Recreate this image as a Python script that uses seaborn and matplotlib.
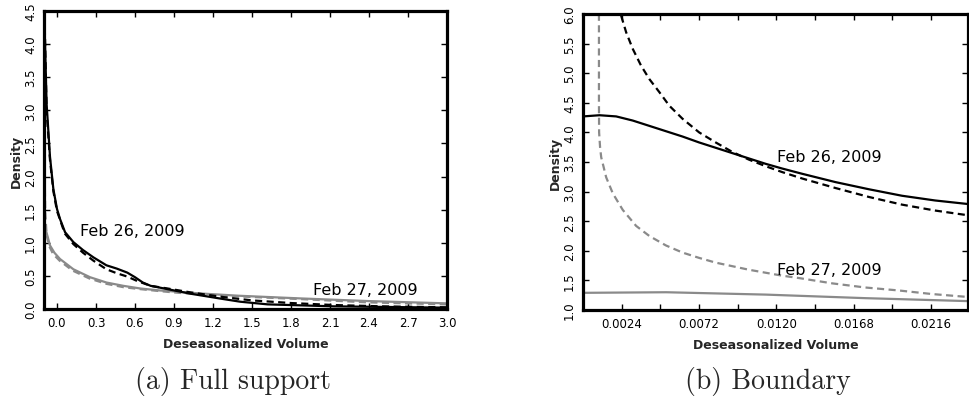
import numpy as np
import pandas as pd
import matplotlib
matplotlib.use("Agg")
import matplotlib.pyplot as plt
import seaborn as sns

# ---- Panel (a): full support ----
full_x_obs26 = [-0.1, -0.08, -0.054, -0.028, 0.0, 0.023, 0.062, 0.126, 0.20, 0.28, 0.38,
                0.46, 0.54, 0.60, 0.66, 0.72, 0.85, 1.03, 1.28, 1.41, 1.62, 2.13, 3.0]
full_y_obs26 = [4.6, 3.1, 2.3, 1.81, 1.51, 1.36, 1.16, 1.01, 0.89, 0.78, 0.66,
                0.61, 0.55, 0.48, 0.40, 0.35, 0.30, 0.23, 0.15, 0.11, 0.07, 0.04, 0.02]

full_x_fit26 = [-0.098, -0.08, -0.054, -0.028, 0.0, 0.06, 0.126, 0.20, 0.28, 0.38, 0.46,
                0.54, 0.62, 0.72, 0.85, 1.03, 1.28, 1.5, 1.8, 2.13, 2.5, 3.0]
full_y_fit26 = [4.6, 3.0, 2.25, 1.78, 1.48, 1.14, 0.98, 0.85, 0.73, 0.60, 0.54,
                0.49, 0.42, 0.35, 0.31, 0.25, 0.18, 0.13, 0.09, 0.06, 0.04, 0.025]

full_x_obs27 = [-0.1, -0.08, -0.054, -0.02, 0.023, 0.126, 0.254, 0.38, 0.51, 0.64, 0.79,
                0.9, 1.1, 1.4, 1.87, 2.39, 3.0]
full_y_obs27 = [1.30, 1.15, 0.96, 0.85, 0.755, 0.60, 0.48, 0.40, 0.35, 0.31, 0.28,
                0.265, 0.235, 0.20, 0.16, 0.12, 0.085]

full_x_fit27 = [-0.097, -0.096, -0.094, -0.09, -0.08, -0.06, -0.03, 0.02, 0.12, 0.25, 0.38,
                0.51, 0.64, 0.79, 0.9, 1.1, 1.4, 1.87, 2.39, 3.0]
full_y_fit27 = [4.6, 3.0, 1.9, 1.45, 1.12, 0.95, 0.83, 0.73, 0.58, 0.46, 0.38,
                0.33, 0.30, 0.27, 0.25, 0.22, 0.19, 0.15, 0.10, 0.07]

full_xticks = [0.0, 0.3, 0.6, 0.9, 1.2, 1.5, 1.8, 2.1, 2.4, 2.7, 3.0]
full_yticks = [0.0, 0.5, 1.0, 1.5, 2.0, 2.5, 3.0, 3.5, 4.0, 4.5]

# ---- Panel (b): boundary ----
bnd_x_obs26 = [0.0, 0.00103, 0.00206, 0.00309, 0.00412, 0.00515, 0.00618, 0.00721,
               0.00824, 0.00927, 0.0103, 0.01133, 0.01236, 0.01362, 0.01568, 0.01774,
               0.0198, 0.02186, 0.0239]
bnd_y_obs26 = [4.27, 4.29, 4.27, 4.20, 4.11, 4.02, 3.93, 3.83,
               3.74, 3.65, 3.56, 3.47, 3.39, 3.30, 3.16, 3.04,
               2.93, 2.85, 2.79]

bnd_x_fit26 = [0.00237, 0.00268, 0.00309, 0.0036, 0.00412, 0.00474, 0.00536, 0.00618,
               0.00721, 0.00824, 0.00927, 0.0103, 0.01133, 0.01236, 0.01362, 0.01568,
               0.01774, 0.0198, 0.02186, 0.0239]
bnd_y_fit26 = [5.97, 5.69, 5.41, 5.13, 4.90, 4.68, 4.45, 4.23,
               4.0, 3.83, 3.67, 3.54, 3.43, 3.33, 3.22, 3.06,
               2.91, 2.78, 2.68, 2.60]

bnd_x_obs27 = [0.0, 0.00517, 0.01135, 0.01753, 0.0239]
bnd_y_obs27 = [1.29, 1.30, 1.26, 1.20, 1.15]

bnd_x_fit27 = [0.00099, 0.00099, 0.00100, 0.00106, 0.00113, 0.00144, 0.00185, 0.00247,
               0.0033, 0.00412, 0.00515, 0.00618, 0.00721, 0.00824, 0.00927, 0.0103,
               0.01236, 0.0134, 0.01547, 0.01753, 0.0196, 0.02165, 0.0239]
bnd_y_fit27 = [6.2, 4.5, 4.0, 3.75, 3.58, 3.24, 2.97, 2.69,
               2.42, 2.25, 2.09, 1.97, 1.88, 1.80, 1.74, 1.68,
               1.58, 1.54, 1.45, 1.38, 1.33, 1.27, 1.22]

bnd_xticks = [0.0024, 0.0048, 0.0072, 0.0096, 0.0120, 0.0144, 0.0168, 0.0192, 0.0216]
bnd_xticklabels = ["0.0024", "", "0.0072", "", "0.0120", "", "0.0168", "", "0.0216"]
bnd_yticks = [1.0, 1.5, 2.0, 2.5, 3.0, 3.5, 4.0, 4.5, 5.0, 5.5, 6.0]

label_26 = "Feb 26, 2009"
label_27 = "Feb 27, 2009"

sns.set_theme(style="white")
plt.rcParams["font.family"] = ["DejaVu Sans"]

BLACK = "#000000"
GREY = "#8a8a8a"
LW = 1.6
DASH = (0, (3.2, 2.0))

fig = plt.figure(figsize=(9.69, 4.06), dpi=100)
ax_a = fig.add_axes([44 / 969, 1 - 310 / 406, (447 - 44) / 969, (310 - 12) / 406])
ax_b = fig.add_axes([583 / 969, 1 - 311 / 406, (968 - 583) / 969, (311 - 15) / 406])


def draw(ax, x, y, color, ls):
    df = pd.DataFrame({"x": x, "y": y})
    sns.lineplot(data=df, x="x", y="y", ax=ax, color=color, linewidth=LW,
                 linestyle=ls, estimator=None, sort=False)


draw(ax_a, full_x_obs27, full_y_obs27, GREY, "-")
draw(ax_a, full_x_fit27, full_y_fit27, GREY, DASH)
draw(ax_a, full_x_fit26, full_y_fit26, BLACK, DASH)
draw(ax_a, full_x_obs26, full_y_obs26, BLACK, "-")

draw(ax_b, bnd_x_obs27, bnd_y_obs27, GREY, "-")
draw(ax_b, bnd_x_fit27, bnd_y_fit27, GREY, DASH)
draw(ax_b, bnd_x_fit26, bnd_y_fit26, BLACK, DASH)
draw(ax_b, bnd_x_obs26, bnd_y_obs26, BLACK, "-")

ax_a.set_xlim(-0.1, 3.0)
ax_a.set_ylim(0.0, 4.5)
ax_a.set_xticks(full_xticks)
ax_a.set_xticklabels([f"{v:.1f}" for v in full_xticks])
ax_a.set_yticks(full_yticks)
ax_a.set_yticklabels([f"{v:.1f}" for v in full_yticks])

ax_b.set_xlim(0.0, 0.0239)
ax_b.set_ylim(1.0, 6.0)
ax_b.set_xticks(bnd_xticks)
ax_b.set_xticklabels(bnd_xticklabels)
ax_b.set_yticks(bnd_yticks)
ax_b.set_yticklabels([f"{v:.1f}" for v in bnd_yticks])

txt_kw = dict(fontsize=11.5, color="black", va="center", ha="left")
ax_a.text(0.177, 1.18, label_26, **txt_kw)
ax_a.text(1.97, 0.30, label_27, **txt_kw)
ax_b.text(0.01207, 3.60, label_26, **txt_kw)
ax_b.text(0.01207, 1.68, label_27, **txt_kw)

for ax in (ax_a, ax_b):
    ax.set_facecolor("white")
    for sp in ax.spines.values():
        sp.set_visible(True)
        sp.set_color("black")
        sp.set_linewidth(2.3)
    ax.tick_params(direction="in", top=True, right=True, bottom=True, left=True,
                   length=4, width=1, color="black", labelsize=8.5, pad=5,
                   labelcolor="black")
    for lbl in ax.get_yticklabels():
        lbl.set_rotation(90)
        lbl.set_va("center")
    ax.set_xlabel("Deseasonalized Volume", fontsize=9, fontweight="bold", labelpad=6)
    ax.set_ylabel("Density", fontsize=9, fontweight="bold", labelpad=1)
    ax.grid(False)

fig.text(233 / 969, 1 - 382 / 406, "(a) Full support", family="cmr10", fontsize=20,
         ha="center", va="center")
fig.text(768 / 969, 1 - 382 / 406, "(b) Boundary", family="cmr10", fontsize=20,
         ha="center", va="center")

fig.savefig("out.png", dpi=100, facecolor="white")
